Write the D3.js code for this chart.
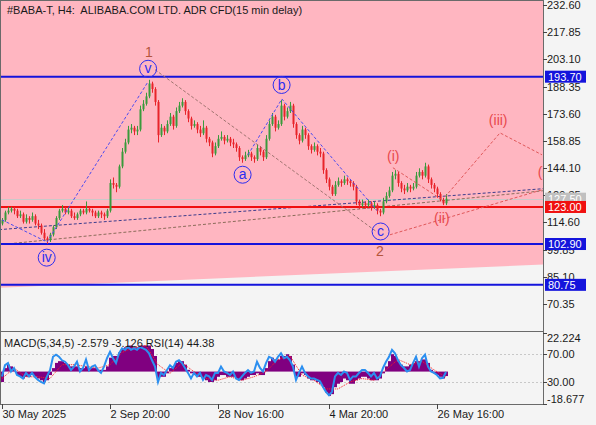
<!DOCTYPE html>
<html>
<head>
<meta charset="utf-8">
<script src="https://cdn.jsdelivr.net/npm/d3@7"></script>
<style>
body{margin:0;background:#f4f4f4;}
svg text{font-family:"Liberation Sans",Arial,sans-serif;font-size:11px;fill:#1a1a1a;}
</style>
</head>
<body>
<svg id="chart" width="596" height="425"></svg>
<script>
// ---- data ----
var title = "#BABA-T, H4:  ALIBABA.COM LTD. ADR CFD(15 min delay)";
var firstOpen = 114;
var closes = [
 116,120,121,122,121,118,119,115,117,116,
 118,114,113,109,106,105,108,112,117,121,
 122,120,121,118,117,119,121,120,122,121,
 120,118,120,119,118,121,136,135,134,145,
 153,158,165,166,164,165,176,179,183,190,
 187,180,162,166,164,168,172,167,175,178,
 180,175,171,167,168,165,163,166,160,158,
 152,156,160,161,159,160,158,157,155,150,
 149,151,152,150,149,155,153,150,160,168,
 172,166,168,178,172,175,178,168,162,159,
 165,162,156,154,156,153,152,143,138,134,
 130,135,137,136,138,137,136,134,126,124,
 125,124,125,123,124,121,120,126,129,132,
 140,141,136,133,132,134,133,134,140,142,
 140,145,138,135,133,130,127,125,127.5];
var highs = [
 117,121,123,123,123,122,121,120,119,118,
 120,119,116,114,111,107,109,113,118,122,
 124,123,123,122,120,120,122,122,126,123,
 122,121,121,121,120,122,138,139,136,146,
 155,160,167,168,167,167,178,181,185,192,
 191,188,181,168,167,170,174,173,177,180,
 182,181,176,172,170,169,167,170,167,161,
 159,158,162,164,162,162,161,160,158,156,
 151,153,154,153,151,157,156,154,162,170,
 174,173,170,181,179,177,180,179,169,163,
 167,166,163,157,158,157,155,153,144,139,
 135,137,139,138,140,139,138,137,135,127,
 127,126,127,126,126,125,122,128,131,134,
 142,143,142,137,135,136,135,136,142,144,
 143,147,146,139,136,134,131,128,130];
var lows = [
 113,115,119,120,119,117,117,114,114,114,
 115,113,111,108,105,103,104,107,111,116,
 120,119,119,117,116,116,118,119,119,120,
 118,117,117,117,116,117,120,133,131,133,
 144,152,157,163,162,162,164,175,178,182,
 185,178,158,161,162,163,167,165,166,174,
 177,173,169,165,166,163,161,162,158,156,
 150,151,155,159,157,158,156,155,153,148,
 147,148,150,148,147,148,151,148,149,159,
 167,164,165,167,170,171,174,166,160,157,
 158,160,154,152,153,151,150,141,136,132,
 129,129,134,134,135,135,134,132,124,122,
 123,122,123,121,122,119,118,119,125,128,
 131,138,134,131,130,131,131,132,133,139,
 138,139,136,133,131,128,126,124,124];
var macdMain = [
 -6,2,4,3,1,-2,-3,-4,-3,-3,
 -2,-3,-4,-5,-6,-5,-2,2,5,6,
 6,5,4,3,3,3,2,2,3,2,
 2,2,1,1,1,3,8,9,9,11,
 13,14,15,15,14,14,15,15,15,15,
 13,9,-4,-3,-3,-1,2,3,5,6,
 6,4,1,-1,-2,-3,-3,-4,-5,-6,
 -6,-5,-3,-2,-2,-3,-3,-3,-4,-5,
 -5,-4,-3,-2,-2,-1,-2,-2,2,6,
 8,7,7,9,9,10,9,4,-3,-3,
 -1,-2,-4,-5,-5,-6,-7,-9,-12,-14,
 -13,-9,-7,-6,-4,-5,-7,-7,-5,-4,
 -3,-3,-4,-5,-5,-5,-4,-1,3,6,
 10,9,6,4,3,3,4,5,6,6,
 7,7,5,1,-1,-2,-3,-4,-2.579];
// signal line, one reading every 4 bars
var signalStep = 4;
var macdSignal = [-4,2,-3,-3,-4,4,4,3,2,4,11,14,15,4,-1,5,0,-4,-5,-3,
 -5,-3,0,7,9,-2,-5,-10,-10,-6,-4,-5,1,7,4,6,1,-3.126];
var rsi = [
 38,54,57,45,50,40,38,35,43,38,
 43,37,33,30,28,38,47,66,69,66,
 61,59,54,47,52,59,45,50,62,47,
 52,54,47,43,52,64,73,64,57,71,
 78,76,80,76,78,76,80,78,76,71,
 61,52,30,43,40,47,54,50,59,61,
 57,50,43,35,43,38,43,33,40,38,
 33,43,43,52,45,43,40,45,35,33,
 38,43,47,43,45,59,50,45,57,66,
 64,59,66,71,64,66,61,52,33,43,
 52,43,38,35,35,33,31,23,16,11,
 16,38,43,40,45,43,33,38,38,43,
 47,47,43,38,43,35,38,50,59,66,
 76,71,61,54,50,45,47,57,66,52,
 64,69,52,45,43,40,35,36,44.38];

var priceTicks = [232.60,217.85,203.10,188.35,173.60,158.85,144.10,129.35,114.60,99.85,85.10,70.35];
var blueLevels = [193.70,102.90,80.75];
var redLevels = [123.00];
var macdTicks = [22.224,-18.677];
var rsiTicks = [70,30];
var timeTickBars = [0,36,72,109,145];
var timeTickLabels = ["30 May 2025","2 Sep 20:00","28 Nov 16:00","4 Mar 20:00","26 May 16:00"];

// pink zone lower edge [bar, price]
var zoneEdge = [[-1,79.2],[181,91.8]];
// long trend lines [bar, price]
var trendNavy = [[-1,110.7],[180.3,132.9]];
var trendBrown = [[-1,102.5],[180.3,131.8]];
// wave paths [bar, price]
var waveIV_V = [[0,116],[15,104],[48.7,191]];
var waveABC = [[82,151.3],[93.3,181.6],[125,121]];
var wave1to2 = [[51,197.5],[124.5,110]];
var wave2Trend = [[129.3,107.9],[180,132.3]];
var waveSmall = [[130.3,144.3],[146.7,126.9]];
var waveProj = [[147.7,128.5],[166,163.2],[180,151.3]];

var circled = [["iv",14.9,95.5],["v",48.7,198],["a",80.2,140.5],["b",93.2,189.2],["c",126.2,109.7]];
var degree = [["1",49,207.3],["2",126,98.9]];
var minor = [["(i)",130.4,150.8],["(ii)",146.6,116.9],["(iii)",165.4,169.9],["(iv)",181.8,142.1]];

// ---- layout ----
var svg = d3.select("#chart");
var axisX = 543, mainTop = 0, mainBottom = 332, subBottom = 404;

var x = d3.scaleLinear().domain([0,180]).range([2,542]);
var y = d3.scaleLinear().domain([232.6,70.35]).range([5,304]);
var yM = d3.scaleLinear().domain([22.224,-18.677]).range([333,404]);
var yR = d3.scaleLinear().domain([100,0]).range([333,403]);

var defs = svg.append("defs");
defs.append("clipPath").attr("id","clipMain").append("rect")
  .attr("x",0).attr("y",mainTop).attr("width",axisX).attr("height",mainBottom-mainTop);
defs.append("clipPath").attr("id","clipSub").append("rect")
  .attr("x",0).attr("y",mainBottom).attr("width",axisX).attr("height",subBottom-mainBottom);

svg.append("rect").attr("width",596).attr("height",425).attr("fill","#f4f4f4");

var main = svg.append("g").attr("clip-path","url(#clipMain)");

// pink zone
main.append("path")
  .attr("d", d3.line()([
    [x(zoneEdge[0][0]), mainTop],[x(zoneEdge[1][0]), mainTop],
    [x(zoneEdge[1][0]), y(zoneEdge[1][1])],[x(zoneEdge[0][0]), y(zoneEdge[0][1])]]))
  .attr("fill","#ffb6c1");

var lastClose = closes[closes.length-1];
main.append("line").attr("x1",0).attr("x2",axisX)
  .attr("y1",Math.round(y(lastClose))+0.5).attr("y2",Math.round(y(lastClose))+0.5)
  .attr("stroke","#c9c9c9").attr("stroke-width",1);

var pline = d3.line().x(function(d){return x(d[0]);}).y(function(d){return y(d[1]);});
function dashed(pts,color){
  main.append("path").attr("d",pline(pts)).attr("fill","none")
    .attr("stroke",color).attr("stroke-width",1).attr("stroke-dasharray","3,2");
}
dashed(trendNavy,"#3c3c8c");
dashed(trendBrown,"#8c6c5a");

// horizontal levels
main.selectAll("line.blue").data(blueLevels).enter().append("line")
  .attr("x1",0).attr("x2",axisX)
  .attr("y1",function(d){return y(d);}).attr("y2",function(d){return y(d);})
  .attr("stroke","#1414dc").attr("stroke-width",2);
main.selectAll("line.red").data(redLevels).enter().append("line")
  .attr("x1",0).attr("x2",axisX)
  .attr("y1",function(d){return y(d);}).attr("y2",function(d){return y(d);})
  .attr("stroke","#f01010").attr("stroke-width",2);

// candles
var candles = closes.map(function(c,i){
  return {i:i, o: i===0 ? firstOpen : closes[i-1], h:highs[i], l:lows[i], c:c};
});
var cg = main.append("g");
cg.selectAll("line").data(candles).enter().append("line")
  .attr("x1",function(d){return x(d.i)+0.5;}).attr("x2",function(d){return x(d.i)+0.5;})
  .attr("y1",function(d){return y(d.h);}).attr("y2",function(d){return y(d.l);})
  .attr("stroke",function(d){return d.c>=d.o ? "#3a9a3c" : "#e8242a";}).attr("stroke-width",1);
cg.selectAll("rect").data(candles).enter().append("rect")
  .attr("x",function(d){return x(d.i)-0.5;}).attr("width",2)
  .attr("y",function(d){return y(Math.max(d.o,d.c));})
  .attr("height",function(d){return Math.max(1, Math.abs(y(d.o)-y(d.c)));})
  .attr("fill",function(d){return d.c>=d.o ? "#3a9a3c" : "#e8242a";});

// wave lines
dashed(waveIV_V,"#4b4bf0");
dashed(waveABC,"#4b4bf0");
dashed(wave1to2,"#a07470");
dashed(wave2Trend,"#e0585a");
dashed(waveSmall,"#e0585a");
dashed(waveProj,"#e0585a");

// wave labels
circled.forEach(function(d){
  var g = main.append("g").attr("transform","translate("+x(d[1])+","+y(d[2])+")");
  g.append("circle").attr("r",8.5).attr("fill","none").attr("stroke","#2d2df0").attr("stroke-width",1);
  g.append("text").attr("text-anchor","middle").attr("dy","0.33em")
    .style("font-size","14px").style("fill","#2d2df0").text(d[0]);
});
degree.forEach(function(d){
  main.append("text").attr("x",x(d[1])).attr("y",y(d[2])).attr("text-anchor","middle").attr("dy","0.35em")
    .style("font-size","14px").style("fill","#b4553c").text(d[0]);
});
minor.forEach(function(d){
  main.append("text").attr("x",x(d[1])).attr("y",y(d[2])).attr("text-anchor","middle").attr("dy","0.35em")
    .style("font-size","14px").style("fill","#e8484c").text(d[0]);
});

main.append("text").attr("x",7).attr("y",14).style("white-space","pre").text(title);

// ---- MACD / RSI panel ----
var sub = svg.append("g").attr("clip-path","url(#clipSub)");
sub.selectAll("line.lvl").data(rsiTicks).enter().append("line")
  .attr("x1",0).attr("x2",axisX)
  .attr("y1",function(d){return Math.round(yR(d))+0.5;}).attr("y2",function(d){return Math.round(yR(d))+0.5;})
  .attr("stroke","#c8c8c8").attr("stroke-dasharray","2,2");
sub.selectAll("rect").data(macdMain).enter().append("rect")
  .attr("x",function(d,i){return x(i)-1;}).attr("width",3)
  .attr("y",function(d){return Math.min(yM(0),yM(d));})
  .attr("height",function(d){return Math.abs(yM(d)-yM(0));})
  .attr("fill","#800080");
sub.append("path")
  .attr("d", d3.line().x(function(d,i){return x(i*signalStep);}).y(function(d){return yM(d);})(macdSignal))
  .attr("fill","none").attr("stroke","#ff2020").attr("stroke-width",1).attr("stroke-dasharray","1,1");
sub.append("path")
  .attr("d", d3.line().x(function(d,i){return x(i);}).y(function(d){return yR(d);})(rsi))
  .attr("fill","none").attr("stroke","#2b8ff0").attr("stroke-width",2);
svg.append("text").attr("x",4).attr("y",347)
  .text("MACD(5,34,5) " + macdMain[macdMain.length-1].toFixed(3) + " " +
        macdSignal[macdSignal.length-1].toFixed(3) + " RSI(14) " + rsi[rsi.length-1].toFixed(2));

// ---- frames and axes ----
svg.append("line").attr("x1",0.5).attr("x2",0.5).attr("y1",0).attr("y2",subBottom).attr("stroke","#6a6a6a");
svg.append("line").attr("x1",0).attr("x2",axisX).attr("y1",0.5).attr("y2",0.5).attr("stroke","#6a6a6a");
svg.append("line").attr("x1",0).attr("x2",axisX).attr("y1",mainBottom-0.5).attr("y2",mainBottom-0.5).attr("stroke","#6a6a6a");
svg.append("line").attr("x1",0).attr("x2",axisX).attr("y1",subBottom+0.5).attr("y2",subBottom+0.5).attr("stroke","#6a6a6a");
svg.append("line").attr("x1",axisX+0.5).attr("x2",axisX+0.5).attr("y1",0).attr("y2",subBottom+1).attr("stroke","#6a6a6a");

var ya = svg.append("g");
priceTicks.forEach(function(v){
  var yy = Math.round(y(v))+0.5;
  ya.append("line").attr("x1",axisX).attr("x2",axisX+4).attr("y1",yy).attr("y2",yy).attr("stroke","#444");
  ya.append("text").attr("x",axisX+4).attr("y",yy).attr("dy","0.35em").text(v.toFixed(2));
});
macdTicks.forEach(function(v){
  var yy = Math.round(yM(v))+0.5;
  ya.append("line").attr("x1",axisX).attr("x2",axisX+4).attr("y1",yy).attr("y2",yy).attr("stroke","#444");
  var ty = Math.max(338, Math.min(399, yy));
  ya.append("text").attr("x",axisX+4).attr("y",ty).attr("dy","0.35em").text(v.toFixed(3));
});
rsiTicks.forEach(function(v){
  var yy = Math.round(yR(v))+0.5;
  ya.append("line").attr("x1",axisX).attr("x2",axisX+4).attr("y1",yy).attr("y2",yy).attr("stroke","#444");
  ya.append("text").attr("x",axisX+4).attr("y",yy).attr("dy","0.35em").text(v.toFixed(2));
});

// level tags on the price axis
function tag(v,color){
  var yy = y(v);
  ya.append("rect").attr("x",axisX+2).attr("y",yy-6).attr("width",41).attr("height",12).attr("fill",color);
  ya.append("text").attr("x",axisX+5).attr("y",yy).attr("dy","0.35em").style("fill","#fff").text(v.toFixed(2));
}
tag(lastClose,"#c0c0c0");
redLevels.forEach(function(v){tag(v,"#f01010");});
blueLevels.forEach(function(v){tag(v,"#1414dc");});

var xa = svg.append("g");
timeTickBars.forEach(function(b,k){
  var xx = Math.round(x(b))+0.5;
  xa.append("line").attr("x1",xx).attr("x2",xx).attr("y1",subBottom).attr("y2",subBottom+5).attr("stroke","#444");
  xa.append("text").attr("x",xx).attr("y",418).text(timeTickLabels[k]);
});
</script>
</body>
</html>
